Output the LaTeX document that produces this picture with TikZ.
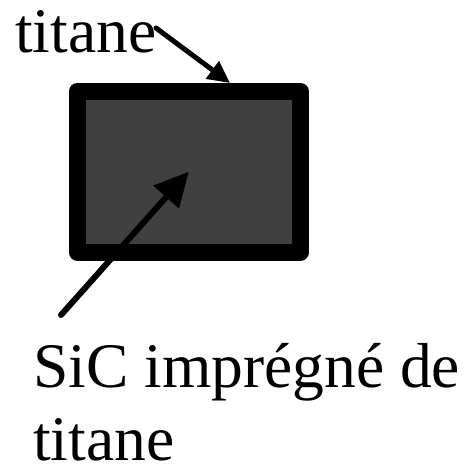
\documentclass[tikz,border=0pt]{standalone}
\usepackage{fontspec}
\setmainfont{Liberation Serif}
\usepackage{tkz-euclide}
\usetikzlibrary{arrows.meta}

\begin{document}
\begin{tikzpicture}[x=1pt,y=-1pt,
            texte/.style={inner sep=0pt,anchor=base west,font=\fontsize{63.5}{73}\selectfont},
            fleche/.style={line cap=round,line width=#1}]
            \useasboundingbox (0,0) rectangle (468,469);

            % plaque
            \node[draw,line width=17pt,line join=round,fill=black!75,
                  minimum width=223.5pt,minimum height=160.5pt,inner sep=0pt]
                  (plaque) at (188.75,171.75) {};

            \node[texte] (ti) at (15,52) {titane};
            \node[texte,align=left] (sic) at (33,460) {SiC imprégné de\\titane};

            %%%%%%%%%%%%%%%%%%%%
            \tkzDefPoints{156/28/A, 230/83/B, 61/315/C}
            \tkzDrawSegment[fleche=5pt,-{Triangle[length=22pt,width=21pt]}](A,B)
            \tkzDrawSegment[fleche=6pt,-{Triangle[length=34pt,width=33pt]}](C,plaque.center)
            %\tkzDrawPoints(A,B,C)
        \end{tikzpicture}
\end{document}
